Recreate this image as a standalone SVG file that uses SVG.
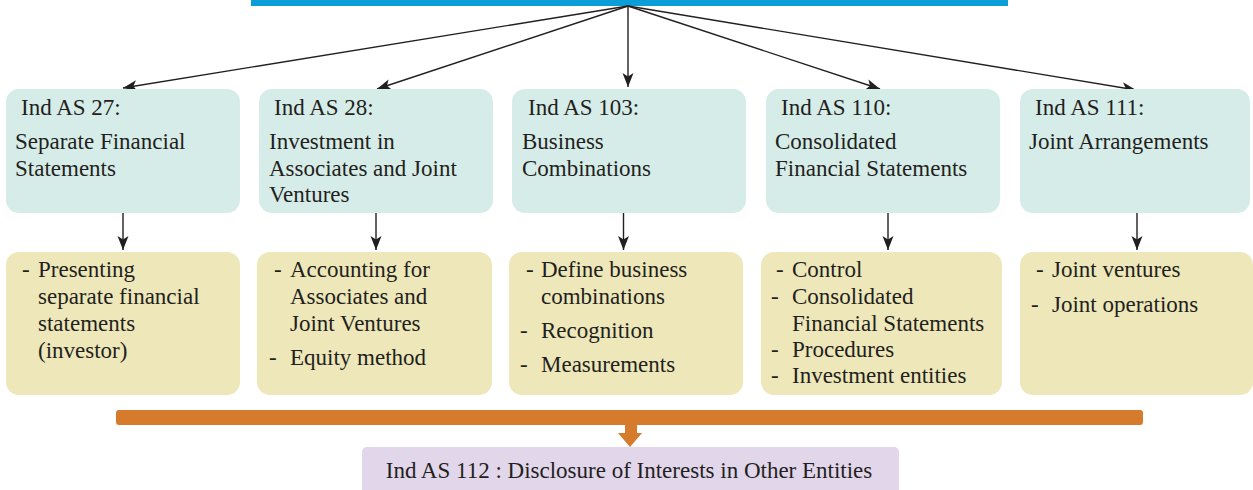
<svg xmlns="http://www.w3.org/2000/svg" width="1253" height="490" viewBox="0 0 1253 490">
<style>
text{font-family:"Liberation Serif","DejaVu Serif",serif;font-size:23px;fill:#231f20}
.top{fill:#d6ece8}
.bot{fill:#ede7b9}
.ln{stroke:#231f20;stroke-width:1.4;fill:none}
</style>
<defs>
<marker id="ah" markerUnits="userSpaceOnUse" markerWidth="16" markerHeight="12" refX="14" refY="5.5" orient="auto">
<path d="M0,0 L14,5.5 L0,11 L3.5,5.5 z" fill="#231f20"/>
</marker>
</defs>
<rect id="topbar" x="251" y="0" width="757" height="6" fill="#0a9dd7"/>
<g id="connectors">
<line class="ln" x1="628" y1="6" x2="123" y2="88" marker-end="url(#ah)"/>
<line class="ln" x1="628" y1="6" x2="377" y2="89" marker-end="url(#ah)"/>
<line class="ln" x1="628" y1="6" x2="628" y2="87" marker-end="url(#ah)"/>
<line class="ln" x1="628" y1="6" x2="880" y2="89" marker-end="url(#ah)"/>
<line class="ln" x1="628" y1="6" x2="1136" y2="90" marker-end="url(#ah)"/>
<line class="ln" x1="123" y1="213" x2="123" y2="250" marker-end="url(#ah)"/>
<line class="ln" x1="376" y1="213" x2="376" y2="250" marker-end="url(#ah)"/>
<line class="ln" x1="623.5" y1="213" x2="623.5" y2="250" marker-end="url(#ah)"/>
<line class="ln" x1="888" y1="213" x2="888" y2="250" marker-end="url(#ah)"/>
<line class="ln" x1="1137" y1="213" x2="1137" y2="250" marker-end="url(#ah)"/>
<rect x="116" y="410" width="1027" height="15" rx="3" fill="#d57b2b"/>
<path d="M625,425 H637 V433 H642 L630,447 L618,433 H625 Z" fill="#d57b2b"/>
</g>
<g id="as27">
<rect class="top" x="6" y="89" width="234" height="124" rx="13"/>
<text x="21" y="115">Ind AS 27:</text>
<text x="15" y="149">Separate Financial</text>
<text x="15" y="176">Statements</text>
</g>
<g id="as28">
<rect class="top" x="259" y="89" width="234" height="124" rx="13"/>
<text x="274" y="115">Ind AS 28:</text>
<text x="269" y="149">Investment in</text>
<text x="269" y="176">Associates and Joint</text>
<text x="269" y="202">Ventures</text>
</g>
<g id="as103">
<rect class="top" x="512" y="89" width="234" height="124" rx="13"/>
<text x="528" y="115">Ind AS 103:</text>
<text x="522" y="149">Business</text>
<text x="522" y="176">Combinations</text>
</g>
<g id="as110">
<rect class="top" x="766" y="89" width="234" height="124" rx="13"/>
<text x="781" y="115">Ind AS 110:</text>
<text x="775" y="149">Consolidated</text>
<text x="775" y="176">Financial Statements</text>
</g>
<g id="as111">
<rect class="top" x="1020" y="89" width="230" height="124" rx="13"/>
<text x="1035" y="115">Ind AS 111:</text>
<text x="1029" y="149">Joint Arrangements</text>
</g>
<g id="d27">
<rect class="bot" x="6" y="252" width="234" height="143" rx="13"/>
<text x="22" y="277">-</text><text x="38" y="277">Presenting</text>
<text x="38" y="304">separate financial</text>
<text x="38" y="331">statements</text>
<text x="38" y="358">(investor)</text>
</g>
<g id="d28">
<rect class="bot" x="257" y="252" width="235" height="143" rx="13"/>
<text x="274" y="277">-</text><text x="290" y="277">Accounting for</text>
<text x="290" y="304">Associates and</text>
<text x="290" y="331">Joint Ventures</text>
<text x="269" y="365">-</text><text x="290" y="365">Equity method</text>
</g>
<g id="d103">
<rect class="bot" x="509" y="252" width="234" height="143" rx="13"/>
<text x="526" y="277">-</text><text x="541" y="277">Define business</text>
<text x="541" y="304">combinations</text>
<text x="520" y="338">-</text><text x="541" y="338">Recognition</text>
<text x="520" y="372">-</text><text x="541" y="372">Measurements</text>
</g>
<g id="d110">
<rect class="bot" x="761" y="252" width="241" height="143" rx="13"/>
<text x="776" y="277">-</text><text x="792" y="277">Control</text>
<text x="771" y="304">-</text><text x="792" y="304">Consolidated</text>
<text x="792" y="331">Financial Statements</text>
<text x="771" y="357">-</text><text x="792" y="357">Procedures</text>
<text x="771" y="383">-</text><text x="792" y="383">Investment entities</text>
</g>
<g id="d111">
<rect class="bot" x="1020" y="252" width="233" height="143" rx="13"/>
<text x="1036" y="277">-</text><text x="1052" y="277">Joint ventures</text>
<text x="1031" y="312">-</text><text x="1052" y="312">Joint operations</text>
</g>
<g id="as112">
<rect x="362" y="447" width="537" height="48" rx="5" fill="#e1d6ea"/>
<text x="629" y="478" text-anchor="middle">Ind AS 112 : Disclosure of Interests in Other Entities</text>
</g>
</svg>
